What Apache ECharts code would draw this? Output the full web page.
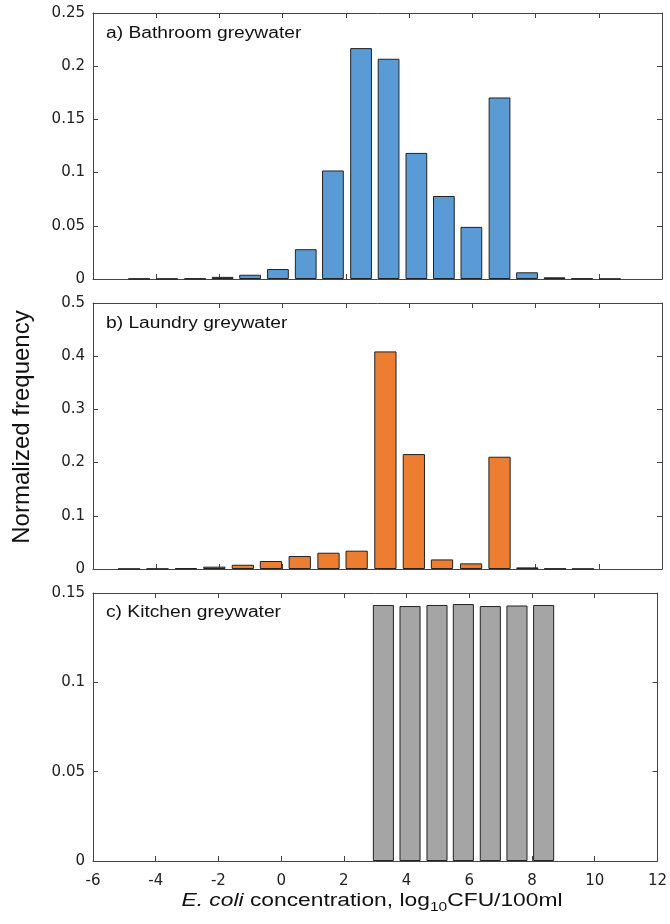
<!DOCTYPE html>
<html>
<head>
<meta charset="utf-8">
<script src="https://cdn.jsdelivr.net/npm/echarts@6/dist/echarts.min.js"></script>
<style>
html,body{margin:0;padding:0;background:#fff;}
#chart{width:670px;height:924px;}
</style>
</head>
<body>
<div id="chart"></div>
<script>
// ---- data ----
const panelTitles = ['a) Bathroom greywater', 'b) Laundry greywater', 'c) Kitchen greywater'];

const binCentersBathroom = [-4.54, -3.66, -2.77, -1.90, -1.03, -0.15, 0.73, 1.59, 2.48, 3.35, 4.23, 5.10, 5.97, 6.86, 7.73, 8.60, 9.47, 10.35];
const bathroom = [0.0003, 0.0003, 0.0005, 0.002, 0.004, 0.0094, 0.028, 0.102, 0.217, 0.207, 0.1185, 0.078, 0.049, 0.1706, 0.0063, 0.0016, 0.0005, 0.0002];

const binCentersLaundry = [-4.86, -3.96, -3.06, -2.16, -1.26, -0.37, 0.54, 1.45, 2.34, 3.25, 4.15, 5.04, 5.96, 6.86, 7.74, 8.62, 9.50];
const laundry = [0.0003, 0.0005, 0.0015, 0.0044, 0.008, 0.015, 0.0244, 0.0306, 0.0344, 0.409, 0.216, 0.018, 0.0106, 0.211, 0.003, 0.0008, 0.0004];

const binCentersKitchen = [3.26, 4.11, 4.97, 5.81, 6.67, 7.52, 8.37];
const kitchen = [0.1433, 0.1427, 0.1433, 0.1438, 0.1427, 0.1430, 0.1433];

const xRange = {min: -6, max: 12, interval: 2};
const yRanges = [
  {min: 0, max: 0.25, interval: 0.05},
  {min: 0, max: 0.5, interval: 0.1},
  {min: 0, max: 0.15, interval: 0.05}
];
const yAxisTitle = 'Normalized frequency';

// ---- chart ----
const colors = ['#5B9BD5', '#ED7D31', '#A5A5A5'];
const grids = [
  {left: 93, right: 8, top: 13, height: 266},
  {left: 93, right: 8, top: 303, height: 266},
  {left: 93, right: 8, top: 593, height: 268}
];
const lineCol = '#444';
const tickFont = {fontFamily: 'DejaVu Sans', fontSize: 15, color: '#222'};

const xAxes = [], yAxes = [], series = [];
const seriesData = [
  binCentersBathroom.map((x, i) => [x, bathroom[i]]),
  binCentersLaundry.map((x, i) => [x, laundry[i]]),
  binCentersKitchen.map((x, i) => [x, kitchen[i]])
];

grids.forEach((g, gi) => {
  const isLast = gi === grids.length - 1;
  xAxes.push({
    type: 'value', gridIndex: gi, position: 'bottom',
    min: xRange.min, max: xRange.max, interval: xRange.interval,
    axisLine: {show: true, onZero: false, lineStyle: {color: lineCol, width: 1}},
    axisTick: {show: true, inside: true, length: 5, lineStyle: {color: lineCol}},
    axisLabel: Object.assign({show: isLast, margin: 13}, tickFont),
    splitLine: {show: false}
  });
  xAxes.push({
    type: 'value', gridIndex: gi, position: 'top',
    min: xRange.min, max: xRange.max, interval: xRange.interval,
    axisLine: {show: true, onZero: false, lineStyle: {color: lineCol, width: 1}},
    axisTick: {show: true, inside: true, length: 5, lineStyle: {color: lineCol}},
    axisLabel: {show: false},
    splitLine: {show: false}
  });
  const yr = yRanges[gi];
  yAxes.push({
    type: 'value', gridIndex: gi, position: 'left',
    min: yr.min, max: yr.max, interval: yr.interval,
    axisLine: {show: true, onZero: false, lineStyle: {color: lineCol, width: 1}},
    axisTick: {show: true, inside: true, length: 5, lineStyle: {color: lineCol}},
    axisLabel: Object.assign({show: true, margin: 8}, tickFont),
    splitLine: {show: false}
  });
  yAxes.push({
    type: 'value', gridIndex: gi, position: 'right',
    min: yr.min, max: yr.max, interval: yr.interval,
    axisLine: {show: true, onZero: false, lineStyle: {color: lineCol, width: 1}},
    axisTick: {show: true, inside: true, length: 5, lineStyle: {color: lineCol}},
    axisLabel: {show: false},
    splitLine: {show: false}
  });
  series.push({
    type: 'bar',
    name: panelTitles[gi],
    xAxisIndex: gi * 2,
    yAxisIndex: gi * 2,
    barWidth: '80%',
    data: seriesData[gi],
    itemStyle: {color: colors[gi], borderColor: '#222', borderWidth: 1},
    silent: true,
    animation: false
  });
});

const titleStyle = {fontFamily: 'Liberation Sans', fontSize: 16, fill: '#111'};
const labelTops = [34, 324, 613];
const graphics = panelTitles.map((t, i) => ({
  type: 'text', x: 106, y: labelTops[i], scaleX: 1.2,
  style: Object.assign({text: t, textVerticalAlign: 'middle', textAlign: 'left'}, titleStyle)
}));
graphics.push({
  type: 'text', x: 22, y: 427, rotation: Math.PI / 2,
  style: {text: yAxisTitle, fontFamily: 'Liberation Sans', fontSize: 24, fill: '#111',
          textAlign: 'center', textVerticalAlign: 'middle'}
});
graphics.push({
  type: 'text', x: 372, y: 901, scaleX: 1.2,
  style: {
    text: '{i|E. coli} {n|concentration, log}{s|10}{n|CFU/100ml}',
    textAlign: 'center', textVerticalAlign: 'middle',
    fontFamily: 'Liberation Sans', fontSize: 19, fill: '#111',
    rich: {
      i: {fontFamily: 'Liberation Sans', fontSize: 19, fontStyle: 'italic', fill: '#111'},
      n: {fontFamily: 'Liberation Sans', fontSize: 19, fill: '#111'},
      s: {fontFamily: 'Liberation Sans', fontSize: 13, fill: '#111', padding: [12, 0, 0, 0]}
    }
  }
});

const chart = echarts.init(document.getElementById('chart'), null, {renderer: 'canvas'});
chart.setOption({
  animation: false,
  backgroundColor: '#fff',
  grid: grids,
  xAxis: xAxes,
  yAxis: yAxes,
  series: series,
  graphic: graphics
});
</script>
</body>
</html>
